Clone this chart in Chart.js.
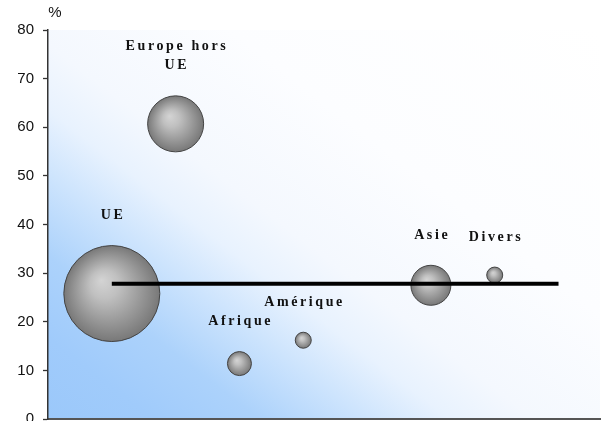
<!DOCTYPE html>
<html>
<head>
<meta charset="utf-8">
<script src="https://cdn.jsdelivr.net/npm/chart.js@4.4.1/dist/chart.umd.min.js"></script>
<style>
html,body{margin:0;padding:0;background:#fff;}
#wrap{width:610px;height:421px;position:relative;}
</style>
</head>
<body>
<div id="wrap"><canvas id="c" width="610" height="421"></canvas></div>
<script>
// ---- data ----
const categories = ['UE', 'Europe hors UE', 'Afrique', 'Amérique', 'Asie', 'Divers'];
const labelLines = [['UE'], ['Europe hors', 'UE'], ['Afrique'], ['Amérique'], ['Asie'], ['Divers']];
const xPositions = [1, 2, 3, 4, 6, 7];
const shares = [25.8, 60.7, 11.4, 16.2, 27.5, 29.6];
const bubbleSizes = [48, 28, 12, 8, 20, 8];
const averageValue = 27.8;
const averageFrom = 1;
const averageTo = 8;
const yTicks = [0, 10, 20, 30, 40, 50, 60, 70, 80];
const yUnit = '%';

const bubbleData = xPositions.map((x, i) => ({ x: x, y: shares[i], r: bubbleSizes[i] }));
const lineData = [{ x: averageFrom, y: averageValue }, { x: averageTo, y: averageValue }];

function bubbleFill(c) {
  const chart = c.chart;
  const xs = chart.scales && chart.scales.x, ys = chart.scales && chart.scales.y;
  if (!xs || !ys || c.dataIndex === undefined) return '#999';
  const i = c.dataIndex;
  const cx = xs.getPixelForValue(xPositions[i]);
  const cy = ys.getPixelForValue(shares[i]);
  const r = bubbleSizes[i];
  if (!isFinite(cx) || !isFinite(cy)) return '#999';
  const g = chart.ctx.createRadialGradient(cx - 0.22 * r, cy - 0.28 * r, 0, cx, cy, r);
  g.addColorStop(0, '#d4d4d4');
  g.addColorStop(0.3, '#c0c0c0');
  g.addColorStop(0.65, '#9c9c9c');
  g.addColorStop(1, '#787878');
  return g;
}

const bgPlugin = {
  id: 'bg',
  beforeDraw(chart) {
    const a = chart.chartArea, ctx = chart.ctx;
    const w = a.right - a.left, h = a.bottom - a.top;
    const k = (w + 1.3 * h) / (1 + 1.69);
    const g = ctx.createLinearGradient(a.left, a.bottom, a.left + k, a.bottom - 1.3 * k);
    g.addColorStop(0, 'rgb(155,200,250)');
    g.addColorStop(0.1, 'rgb(160,203,251)');
    g.addColorStop(0.2, 'rgb(172,210,251)');
    g.addColorStop(0.3, 'rgb(205,228,253)');
    g.addColorStop(0.38, 'rgb(232,242,254)');
    g.addColorStop(0.46, 'rgb(244,248,254)');
    g.addColorStop(0.65, 'rgb(252,253,255)');
    g.addColorStop(1, 'rgb(255,255,255)');
    ctx.save();
    ctx.fillStyle = g;
    ctx.fillRect(a.left, a.top, w, h);
    ctx.restore();
  }
};

const labelPlugin = {
  id: 'labels',
  afterDraw(chart) {
    const ctx = chart.ctx, xs = chart.scales.x, ys = chart.scales.y;
    ctx.save();
    ctx.fillStyle = '#111';
    ctx.textAlign = 'center';
    ctx.textBaseline = 'middle';
    ctx.font = 'bold 14px "Liberation Serif", "Times New Roman", serif';
    const sp = 2.6;
    try { ctx.letterSpacing = sp + 'px'; } catch (e) {}
    labelLines.forEach((lines, i) => {
      const cx = xs.getPixelForValue(xPositions[i]);
      const cy = ys.getPixelForValue(shares[i]);
      const baseY = cy - bubbleSizes[i] - 30;
      lines.forEach((t, j) => {
        const y = baseY - (lines.length - 1 - j) * 19;
        ctx.fillText(t, cx + sp / 2, y);
      });
    });
    try { ctx.letterSpacing = '0px'; } catch (e) {}
    ctx.font = '15px "Liberation Sans", Arial, sans-serif';
    ctx.fillStyle = '#111';
    ctx.fillText(yUnit, chart.chartArea.left + 7, 13);
    ctx.restore();
  }
};

new Chart(document.getElementById('c'), {
  type: 'bubble',
  data: {
    datasets: [
      {
        type: 'line',
        data: lineData,
        borderColor: '#000',
        borderWidth: 4,
        pointRadius: 0,
        fill: false,
        order: 0
      },
      {
        type: 'bubble',
        data: bubbleData,
        backgroundColor: bubbleFill,
        borderColor: '#444',
        borderWidth: 1,
        order: 1,
        clip: false
      }
    ]
  },
  options: {
    responsive: false,
    animation: false,
    events: [],
    layout: { autoPadding: false, padding: { top: 30, right: 10, bottom: 0, left: 0 } },
    plugins: { legend: { display: false }, tooltip: { enabled: false } },
    scales: {
      x: {
        type: 'linear',
        min: 0,
        max: 8.65,
        ticks: { display: false },
        grid: { display: false },
        border: { display: true, color: '#555', width: 2 },
        afterFit(s) { s.height = 2; s.paddingLeft = 0; s.paddingRight = 0; }
      },
      y: {
        type: 'linear',
        min: 0,
        max: 80,
        afterBuildTicks(s) { s.ticks = yTicks.map(v => ({ value: v })); },
        ticks: {
          autoSkip: false,
          padding: 9,
          color: '#111',
          font: { family: '"Liberation Sans", Arial, sans-serif', size: 15 }
        },
        grid: { display: true, drawOnChartArea: false, drawTicks: true, tickLength: 5, color: '#333', tickWidth: 1.3 },
        border: { display: true, color: '#333', width: 1.5 },
        afterFit(s) { s.width = 48; s.paddingTop = 0; s.paddingBottom = 0; }
      }
    }
  },
  plugins: [bgPlugin, labelPlugin]
});
</script>
</body>
</html>
